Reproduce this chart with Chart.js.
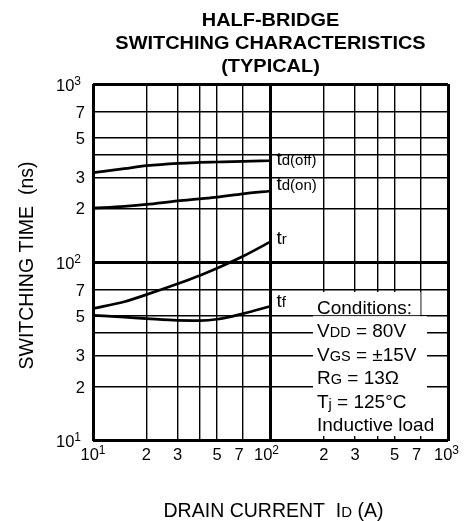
<!DOCTYPE html>
<html>
<head>
<meta charset="utf-8">
<script src="https://cdn.jsdelivr.net/npm/chart.js@4/dist/chart.umd.min.js"></script>
<style>
html,body{margin:0;padding:0;background:#fff;}
canvas{display:block;}
</style>
</head>
<body>
<canvas id="c" width="465" height="521"></canvas>
<script>
// ---- data ----
const currents = [10, 15, 20, 30, 40, 50, 70, 100];
const tdOff = [318, 335, 348, 359, 363, 365, 368, 371];
const tdOn  = [201, 206, 211, 221, 227, 232, 242, 251];
const tr    = [55, 60, 65.8, 75.7, 84.3, 92.5, 108, 130.5];
const tf    = [50.4, 49.2, 48.3, 47.2, 47.1, 47.9, 51.5, 56.6];
const seriesNames = ['td(off)', 'td(on)', 'tr', 'tf'];

const tickValues = [10, 20, 30, 40, 50, 70, 100, 200, 300, 400, 500, 700, 1000];
// [mantissa text, exponent text]
const tickLabels = [['10', '1'], ['2', ''], ['3', ''], ['', ''], ['5', ''], ['7', ''],
                    ['10', '2'], ['2', ''], ['3', ''], ['', ''], ['5', ''], ['7', ''], ['10', '3']];

const titleLines = ['HALF-BRIDGE', 'SWITCHING CHARACTERISTICS', '(TYPICAL)'];
const yTitle = 'SWITCHING TIME  (ns)';
const conditionRows = [
  [['Conditions:', 0]],
  [['V', 0], ['DD', 1], [' = 80V', 0]],
  [['V', 0], ['GS', 1], [' = \u00B115V', 0]],
  [['R', 0], ['G', 1], [' = 13\u03A9', 0]],
  [['T', 0], ['j', 2], [' = 125\u00B0C', 0]],
  [['Inductive load', 0]]
];

const FONT = '"Liberation Sans", Arial, Helvetica, sans-serif';
const TICK_SIZE = 16.5, SUP_SIZE = 12;

function gridWidth(ctx) {
  const v = ctx.tick && ctx.tick.value;
  if (v === 10 || v === 100 || v === 1000) return 3;
  return 1.4;
}

function drawRich(ctx, x, baseline, segs, mainSize, subSize, align) {
  let total = 0;
  const widths = segs.map(s => {
    ctx.font = (s[1] ? subSize : mainSize) + 'px ' + FONT;
    const w = ctx.measureText(s[0]).width;
    total += w;
    return w;
  });
  let cx = align === 'center' ? x - total / 2 : (align === 'right' ? x - total : x);
  ctx.textAlign = 'left';
  ctx.textBaseline = 'alphabetic';
  segs.forEach((s, i) => {
    ctx.font = (s[1] ? subSize : mainSize) + 'px ' + FONT;
    let dy = 0;
    if (s[1] === 2) dy = 1.5;
    if (s[1] === 3) dy = -6.3;
    ctx.fillText(s[0], cx, baseline + dy);
    cx += widths[i];
  });
  return total;
}

function tickSegs(lab) {
  const segs = [[lab[0], 0]];
  if (lab[1]) segs.push([lab[1], 3]);
  return segs;
}

const annot = {
  id: 'annot',
  afterDatasetsDraw(chart) {
    const ctx = chart.ctx;
    const xs = chart.scales.x, ys = chart.scales.y;
    ctx.save();
    // conditions box background
    ctx.fillStyle = '#fff';
    ctx.fillRect(313, 292, 107.5, 23.2);
    ctx.fillRect(313, 316.2, 114, 71.8);
    ctx.fillRect(313, 388, 132.5, 48);
    ctx.fillStyle = '#000';
    conditionRows.forEach((row, i) => {
      drawRich(ctx, 317, 313.5 + i * 23.5, row, 19, 14.5, 'left');
    });
    // curve labels
    const series = [tdOff, tdOn, tr, tf];
    const offs = [4.5, -1.5, 2, 0.5];
    const labs = [[['t', 0], ['d(off)', 1]], [['t', 0], ['d(on)', 1]], [['t', 0], ['r', 1]], [['t', 0], ['f', 1]]];
    series.forEach((s, i) => {
      const px = xs.getPixelForValue(currents[currents.length - 1]) + 6;
      const py = ys.getPixelForValue(s[s.length - 1]) + offs[i];
      drawRich(ctx, px, py, labs[i], 19, 15, 'left');
    });
    ctx.restore();
  },
  afterDraw(chart) {
    const ctx = chart.ctx;
    const xs = chart.scales.x, ys = chart.scales.y;
    ctx.save();
    ctx.fillStyle = '#000';
    // tick labels
    tickValues.forEach((v, i) => {
      const lab = tickLabels[i];
      if (!lab[0]) return;
      // y axis
      const py = ys.getPixelForValue(v);
      if (lab[1]) drawRich(ctx, 81, py + 6.8, tickSegs(lab), TICK_SIZE, SUP_SIZE, 'right');
      else drawRich(ctx, 85, py + 5.9, tickSegs(lab), TICK_SIZE, SUP_SIZE, 'right');
      // x axis
      const px = xs.getPixelForValue(v);
      let nudge = 0;
      if (lab[0] === '7') nudge = -4;
      if (lab[1] === '2') nudge = -4;
      if (lab[1] === '3') nudge = -1.5;
      drawRich(ctx, px + nudge, 460, tickSegs(lab), TICK_SIZE, SUP_SIZE, 'center');
    });
    // title
    ctx.font = 'bold 19px ' + FONT;
    ctx.textAlign = 'center';
    ctx.textBaseline = 'alphabetic';
    const bl = [25.7, 49.2, 72.3];
    titleLines.forEach((t, i) => {
      ctx.save();
      ctx.translate(270.5, bl[i]);
      ctx.scale(1.05, 1);
      ctx.fillText(t, 0, 0);
      ctx.restore();
    });
    // x title
    drawRich(ctx, 273.5, 517.3, [['DRAIN CURRENT  I', 0], ['D', 1], [' (A)', 0]], 19.5, 15, 'center');
    // y title
    ctx.translate(32.7, 265.5);
    ctx.rotate(-Math.PI / 2);
    ctx.font = '19.5px ' + FONT;
    ctx.textAlign = 'center';
    ctx.fillText(yTitle, 0, 0);
    ctx.restore();
  }
};

const mk = (label, data) => ({
  label, data: currents.map((c, i) => ({x: c, y: data[i]})),
  borderColor: '#000', borderWidth: 2.7, pointRadius: 0,
  fill: false, cubicInterpolationMode: 'monotone'
});

new Chart(document.getElementById('c'), {
  type: 'line',
  data: {
    datasets: [mk(seriesNames[0], tdOff), mk(seriesNames[1], tdOn), mk(seriesNames[2], tr), mk(seriesNames[3], tf)]
  },
  options: {
    responsive: false,
    animation: false,
    devicePixelRatio: 1,
    layout: {padding: {left: 0, right: 17, top: 84, bottom: 0}},
    plugins: {legend: {display: false}, title: {display: false}, tooltip: {enabled: false}},
    scales: {
      x: {
        type: 'logarithmic', min: 10, max: 1000,
        afterBuildTicks: s => { s.ticks = tickValues.map(v => ({value: v})); },
        afterFit: s => { s.height = 80.5; },
        grid: {color: '#000', lineWidth: gridWidth, drawTicks: false},
        border: {display: false},
        ticks: {display: false, autoSkip: false, maxRotation: 0, minRotation: 0}
      },
      y: {
        type: 'logarithmic', min: 10, max: 1000,
        afterBuildTicks: s => { s.ticks = tickValues.map(v => ({value: v})); },
        afterFit: s => { s.width = 93; },
        grid: {color: '#000', lineWidth: gridWidth, drawTicks: false},
        border: {display: false},
        ticks: {display: false, autoSkip: false}
      }
    }
  },
  plugins: [annot]
});
</script>
</body>
</html>
